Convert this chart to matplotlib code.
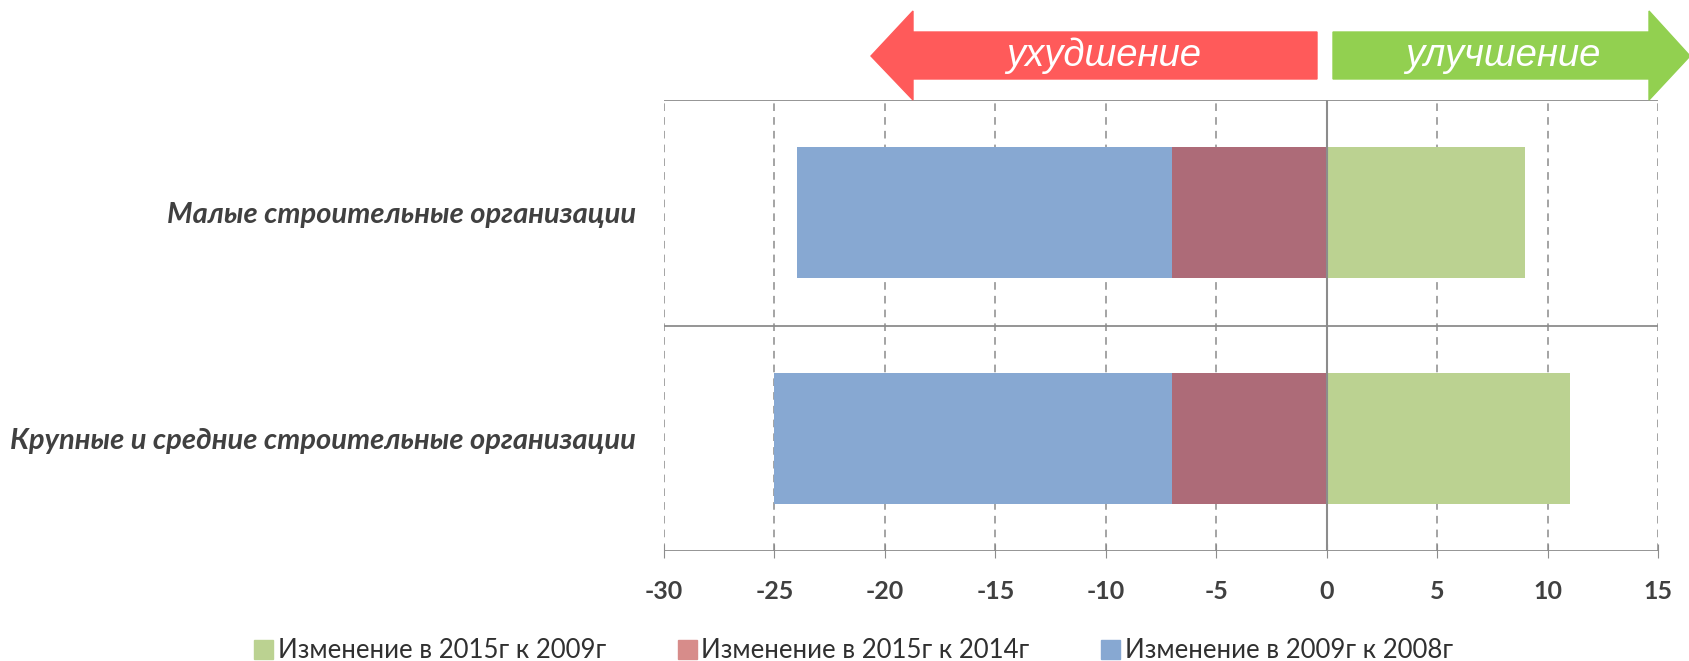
import numpy as np
import matplotlib
matplotlib.use('Agg')
import matplotlib.pyplot as plt
from matplotlib.patches import Polygon, Patch

categories = ['Крупные и средние строительные организации', 'Малые строительные организации']
ch_2009_2008 = [-25, -24]   # blue
ch_2015_2014 = [-7, -7]     # red (drawn over blue)
ch_2015_2009 = [11, 9]      # green
series_names = ['Изменение в 2015г к 2009г', 'Изменение в 2015г к 2014г', 'Изменение в 2009г к 2008г']
x_ticks = [-30, -25, -20, -15, -10, -5, 0, 5, 10, 15]

blue = '#87A8D2'
red_bar = '#AD6B78'
red_leg = '#D78C8A'
green = '#BBD291'
txt = '#404040'
grid_c = '#8C8C8C'

plt.rcParams['font.family'] = ['Lato', 'DejaVu Sans']

fig = plt.figure(figsize=(16.9, 6.61), dpi=100)
W, H = 1690, 661
ax = fig.add_axes([664 / W, 1 - 551 / H, (1658 - 664) / W, (551 - 100) / H])

y = np.arange(len(categories))
bh = 0.58
ax.barh(y, ch_2009_2008, height=bh, color=blue, zorder=2)
ax.barh(y, ch_2015_2014, height=bh, color=red_bar, zorder=3)
ax.barh(y, ch_2015_2009, height=bh, color=green, zorder=3)

ax.set_xlim(-30, 15)
ax.set_ylim(-0.5, 1.5)
ax.set_xticks(x_ticks)
ax.set_xticklabels([str(t) for t in x_ticks], fontsize=18, fontweight='bold', color=txt)
ax.set_yticks(y)
ax.set_yticklabels(categories, fontsize=21, fontweight='bold', fontstyle='italic', color=txt)
ax.tick_params(axis='y', length=0, pad=20)
ax.tick_params(axis='x', direction='inout', length=10, color=grid_c, pad=16)

# vertical dashed grid
for t in x_ticks:
    if t != 0:
        ax.axvline(t, color=grid_c, lw=1.1, ls=(0, (5, 4)), zorder=1)
ax.axvline(0, color=grid_c, lw=1.5, zorder=4)
for yy in [-0.5, 0.5, 1.5]:
    ax.axhline(yy, color=grid_c, lw=1.3, zorder=1)
for s in ax.spines.values():
    s.set_visible(False)

# arrows at top (figure pixel coords)
def fp(px, py):
    return (px / W, 1 - py / H)

red_arrow = [fp(871, 56), fp(913, 11), fp(913, 32), fp(1317, 32), fp(1317, 79), fp(913, 79), fp(913, 100)]
green_arrow = [fp(1333, 32), fp(1649, 32), fp(1649, 11), fp(1690, 56), fp(1649, 100), fp(1649, 79), fp(1333, 79)]
fig.patches.append(Polygon(red_arrow, closed=True, color='#FF5A5A', transform=fig.transFigure))
fig.patches.append(Polygon(green_arrow, closed=True, color='#92D050', transform=fig.transFigure))
fig.text(1104 / W, 1 - 56 / H, 'ухудшение', color='white', fontsize=27.5, fontstyle='italic',
         family=['Liberation Sans', 'DejaVu Sans'], ha='center', va='center')
fig.text(1503 / W, 1 - 56 / H, 'улучшение', color='white', fontsize=27.5, fontstyle='italic',
         family=['Liberation Sans', 'DejaVu Sans'], ha='center', va='center')

handles = [Patch(color=green), Patch(color=red_leg), Patch(color=blue)]
fig.legend(handles, series_names, loc='center', bbox_to_anchor=(0.505, 1 - 651 / H), ncol=3,
           frameon=False, fontsize=18.5, handlelength=0.74, handleheight=0.74, handletextpad=0.18,
           columnspacing=2.8, labelcolor='#303030')

plt.savefig('out.png', dpi=100)
